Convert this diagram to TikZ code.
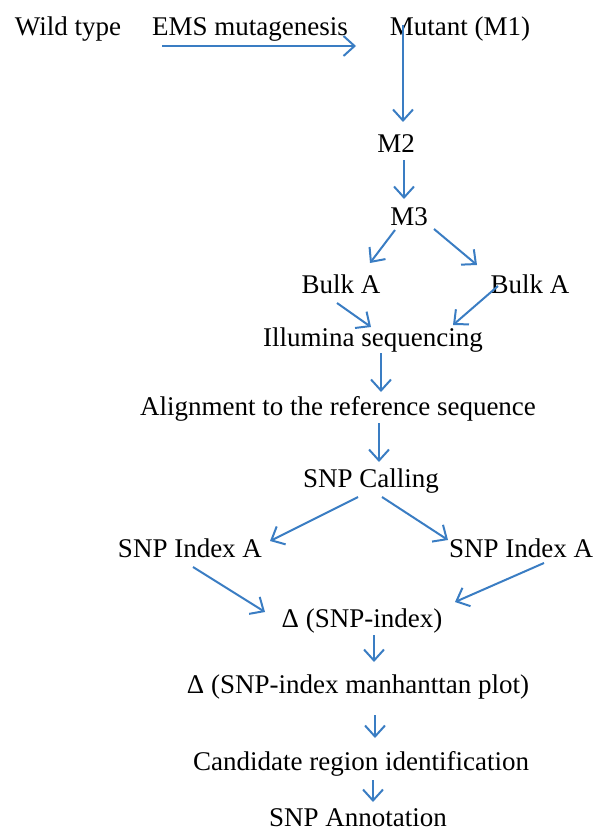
\documentclass[tikz,border=0pt]{standalone}
\usepackage{fontspec}
\setmainfont{Liberation Serif}
\usetikzlibrary{arrows.meta}
\definecolor{cArrow}{HTML}{3A7DC3}
\tikzset{
  >={Straight Barb[length=11pt, width=20pt, line width=2pt]},
  stage/.style={anchor=base, inner sep=0pt, font=\fontsize{27}{32}\selectfont},
  arr/.style={->, draw=cArrow, line width=2pt},
}

\begin{document}
\begin{tikzpicture}[x=1pt, y=-1pt]
    \useasboundingbox (0,0) rectangle (594,832);
    % stages
    \node[stage] (wild)     at (68,36)   {Wild type};
    \node[stage] (ems)      at (250,36)  {EMS mutagenesis};
    \node[stage] (mutant)   at (460,36)  {Mutant (M1)};
    \node[stage] (m2)       at (396,153) {M2};
    \node[stage] (m3)       at (409,225) {M3};
    \node[stage] (bulkL)    at (341,293) {Bulk A};
    \node[stage] (bulkR)    at (530,293) {Bulk A};
    \node[stage] (illumina) at (373,346) {Illumina sequencing};
    \node[stage] (align)    at (338,415) {Alignment to the reference sequence};
    \node[stage] (calling)  at (371,487) {SNP Calling};
    \node[stage] (idxL)     at (190,557) {SNP Index A};
    \node[stage] (idxR)     at (521,557) {SNP Index A};
    \node[stage] (delta)    at (362,627) {Δ (SNP-index)};
    \node[stage] (manh)     at (358,693) {Δ (SNP-index manhanttan plot)};
    \node[stage] (cand)     at (361,770) {Candidate region identification};
    \node[stage] (annot)    at (358,826) {SNP Annotation};
    % arrows
    \draw[arr] ([shift={(-88,10)}]ems.base)     -- ([shift={(-104,10)}]mutant.base);
    \draw[arr] ([shift={(-57,-11)}]mutant.base) -- ([shift={(7,-31)}]m2.base);
    \draw[arr] ([shift={(8,7)}]m2.base)         -- ([shift={(-5,-26)}]m3.base);
    \draw[arr] ([shift={(-14,5)}]m3.base)       -- ([shift={(29,-30)}]bulkL.base);
    \draw[arr] ([shift={(25,4)}]m3.base)        -- ([shift={(-53,-28)}]bulkR.base);
    \draw[arr] ([shift={(-4,10)}]bulkL.base)    -- ([shift={(-2,-19)}]illumina.base);
    \draw[arr] ([shift={(-32,-7)}]bulkR.base)   -- ([shift={(80,-21)}]illumina.base);
    \draw[arr] ([shift={(8,7)}]illumina.base)   -- ([shift={(43,-23)}]align.base);
    \draw[arr] ([shift={(41,8)}]align.base)     -- ([shift={(8,-25)}]calling.base);
    \draw[arr] ([shift={(-13,10)}]calling.base) -- ([shift={(80,-16)}]idxL.base);
    \draw[arr] ([shift={(11,10)}]calling.base)  -- ([shift={(-73,-17)}]idxR.base);
    \draw[arr] ([shift={(3,10)}]idxL.base)      -- ([shift={(-97,-15)}]delta.base);
    \draw[arr] ([shift={(23,6)}]idxR.base)      -- ([shift={(93,-25)}]delta.base);
    \draw[arr] ([shift={(12,8)}]delta.base)     -- ([shift={(16,-31)}]manh.base);
    \draw[arr] ([shift={(17,22)}]manh.base)     -- ([shift={(14,-32)}]cand.base);
    \draw[arr] ([shift={(12,10)}]cand.base)     -- ([shift={(15,-24)}]annot.base);
\end{tikzpicture}
\end{document}
